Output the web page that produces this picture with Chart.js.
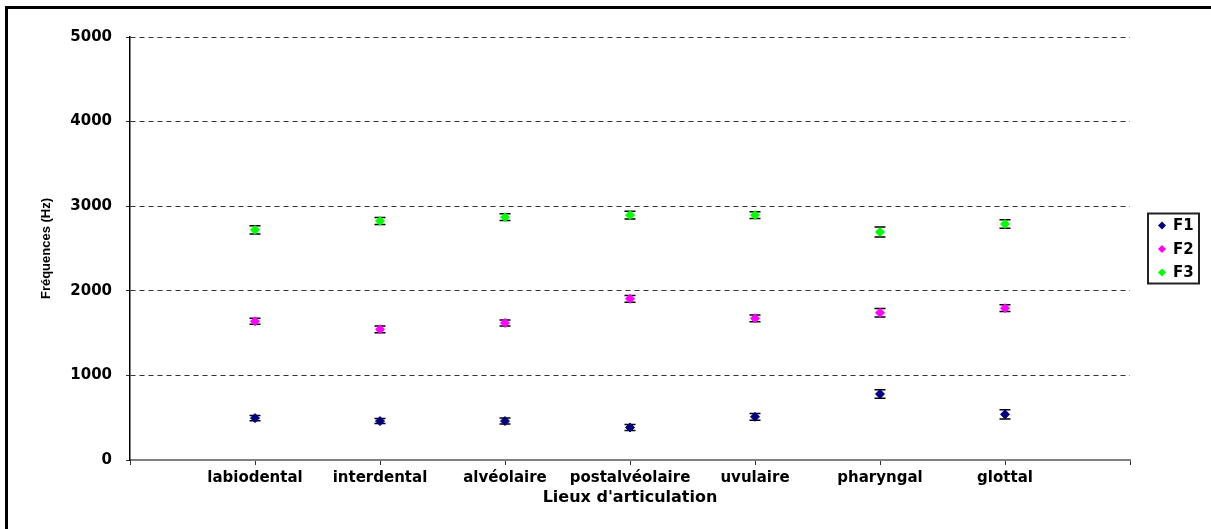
<!DOCTYPE html>
<html>
<head>
<meta charset="utf-8">
<script src="https://cdn.jsdelivr.net/npm/chart.js@4/dist/chart.umd.min.js"></script>
<style>
  html, body { margin: 0; padding: 0; background: #fff; }
  #wrap {
    position: absolute; left: 5px; top: 6px;
    width: 1206px; height: 523px;
    border-top: 3px solid #000; border-left: 3px solid #000;
    box-sizing: border-box;
  }
</style>
</head>
<body>
<div id="wrap"><canvas id="formants"></canvas></div>
<script>
// Valeurs (Hz)
const categories = ['labiodental', 'interdental', 'alvéolaire', 'postalvéolaire', 'uvulaire', 'pharyngal', 'glottal'];
const f1 = [495, 460, 460, 385, 510, 780, 540];
const f2 = [1640, 1545, 1620, 1905, 1675, 1740, 1795];
const f3 = [2720, 2825, 2870, 2895, 2895, 2695, 2790];
const f1Err = [30, 30, 35, 35, 40, 50, 55];
const f2Err = [35, 40, 35, 40, 40, 50, 40];
const f3Err = [50, 40, 40, 45, 40, 60, 50];
const yTicks = [0, 1000, 2000, 3000, 4000, 5000];

const tickFont = { family: 'DejaVu Sans', weight: 'bold', size: 15 };

function points(values) {
  return values.map((v, i) => ({ x: i + 1, y: v }));
}

// Barres d'erreur (sous les marqueurs)
const errorBars = {
  id: 'errorBars',
  beforeDatasetsDraw(chart) {
    const ctx = chart.ctx;
    const xs = chart.scales.x, ys = chart.scales.y;
    ctx.save();
    ctx.strokeStyle = '#000';
    ctx.lineWidth = 1.5;
    chart.data.datasets.forEach((ds) => {
      ds.data.forEach((p, i) => {
        const x = xs.getPixelForValue(p.x);
        const top = ys.getPixelForValue(p.y + ds.errors[i]);
        const bot = ys.getPixelForValue(p.y - ds.errors[i]);
        ctx.beginPath();
        ctx.moveTo(x, top); ctx.lineTo(x, bot);
        ctx.moveTo(x - 5.5, top); ctx.lineTo(x + 5.5, top);
        ctx.moveTo(x - 5.5, bot); ctx.lineTo(x + 5.5, bot);
        ctx.stroke();
      });
    });
    ctx.restore();
  }
};

// Légende encadrée à droite
const boxLegend = {
  id: 'boxLegend',
  afterDraw(chart) {
    const ctx = chart.ctx;
    const area = chart.chartArea;
    const w = 51, h = 70;
    const left = area.right + 18;
    const top = (area.top + area.bottom) / 2 - h / 2;
    ctx.save();
    ctx.strokeStyle = '#222';
    ctx.lineWidth = 2;
    ctx.strokeRect(left, top, w, h);
    ctx.font = 'bold 15px "DejaVu Sans"';
    ctx.textBaseline = 'middle';
    chart.data.datasets.forEach((ds, i) => {
      const y = top + 12 + i * 23.5;
      ctx.fillStyle = ds.backgroundColor;
      ctx.beginPath();
      ctx.moveTo(left + 10, y); ctx.lineTo(left + 14, y - 4);
      ctx.lineTo(left + 18, y); ctx.lineTo(left + 14, y + 4);
      ctx.closePath();
      ctx.fill();
      ctx.fillStyle = '#000';
      ctx.fillText(ds.label, left + 25, y + 1);
    });
    ctx.restore();
  }
};

new Chart(document.getElementById('formants'), {
  type: 'scatter',
  data: {
    datasets: [
      { label: 'F1', data: points(f1), errors: f1Err, backgroundColor: '#000080', borderColor: '#000080' },
      { label: 'F2', data: points(f2), errors: f2Err, backgroundColor: '#ff00ff', borderColor: '#ff00ff' },
      { label: 'F3', data: points(f3), errors: f3Err, backgroundColor: '#00ff00', borderColor: '#00ff00' }
    ]
  },
  options: {
    responsive: true,
    maintainAspectRatio: false,
    animation: false,
    elements: {
      point: { pointStyle: 'rectRot', radius: 4.5, hoverRadius: 4.5, borderWidth: 1 }
    },
    layout: { padding: { top: 28, bottom: 9, left: 0, right: 81 } },
    plugins: {
      legend: { display: false },
      tooltip: { enabled: false }
    },
    scales: {
      x: {
        type: 'linear',
        min: 0,
        max: categories.length + 1,
        afterBuildTicks: (scale) => {
          scale.ticks = [];
          for (let i = 0; i <= categories.length + 1; i++) scale.ticks.push({ value: i });
        },
        afterFit: (scale) => { scale.height = 60; },
        ticks: {
          autoSkip: false,
          maxRotation: 0,
          padding: 4,
          color: '#000',
          font: tickFont,
          callback: (v) => categories[v - 1] || ''
        },
        grid: { drawOnChartArea: false, drawTicks: true, tickLength: 5, color: '#333' },
        border: { color: '#808080', width: 2 },
        title: {
          display: true,
          text: "Lieux d'articulation",
          color: '#000',
          font: { family: 'DejaVu Sans', weight: 'bold', size: 16 },
          padding: { top: 0, bottom: 13 }
        }
      },
      y: {
        min: 0,
        max: 5000,
        afterBuildTicks: (scale) => { scale.ticks = yTicks.map((v) => ({ value: v })); },
        afterFit: (scale) => { scale.width = 122; },
        ticks: { padding: 14, color: '#000', font: tickFont, callback: (v) => String(v) },
        grid: {
          color: (c) => (c.tick && c.tick.value === 0 ? 'rgba(0,0,0,0)' : '#333'),
          tickColor: '#333',
          tickLength: 4,
          tickBorderDash: []
        },
        border: { color: '#000', width: 1.5, dash: [5, 4] },
        title: {
          display: true,
          text: 'Fréquences (Hz)',
          color: '#000',
          font: { family: 'Liberation Sans', weight: 'bold', size: 13 },
          padding: { top: 31, bottom: 0 }
        }
      }
    }
  },
  plugins: [errorBars, boxLegend]
});
</script>
</body>
</html>
